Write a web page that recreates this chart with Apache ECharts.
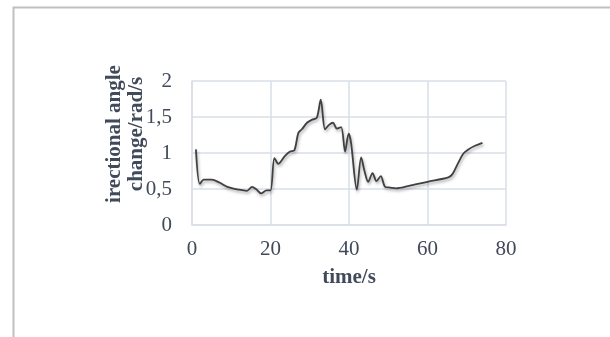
<!DOCTYPE html>
<html>
<head>
<meta charset="utf-8">
<script src="https://cdn.jsdelivr.net/npm/echarts@6/dist/echarts.min.js"></script>
<style>
html,body{margin:0;padding:0;background:#fff;}
#chart{width:610px;height:337px;}
</style>
</head>
<body>
<div id="chart"></div>
<script>
// time in seconds
var timeS = [1, 2, 3, 5, 7, 9, 12, 14, 15.3, 16.3, 17.6, 19, 20, 21, 22, 23.7, 25, 26.1, 27.1, 28, 29.3, 30.5, 31.8, 32.8, 33.9, 34.9, 35.9, 36.9, 38, 39, 39.9, 40.5, 42, 43.1, 43.9, 44.9, 46, 47, 48.1, 49.2, 50.5, 52, 55, 60, 65.3, 66.4, 67.8, 69.1, 70.4, 72.1, 74];
// directional angle change, rad/s
var angleChange = [1.05, 0.57, 0.63, 0.63, 0.59, 0.53, 0.49, 0.475, 0.53, 0.50, 0.44, 0.48, 0.48, 0.93, 0.85, 0.96, 1.02, 1.04, 1.28, 1.33, 1.42, 1.46, 1.49, 1.74, 1.33, 1.39, 1.42, 1.34, 1.36, 1.02, 1.27, 1.15, 0.49, 0.94, 0.76, 0.60, 0.72, 0.61, 0.68, 0.53, 0.52, 0.51, 0.54, 0.60, 0.66, 0.71, 0.86, 0.99, 1.05, 1.10, 1.14];
var xTicks = [0, 20, 40, 60, 80];
var yTicks = ['0', '0,5', '1', '1,5', '2'];
var xTitle = 'time/s';
var yTitle = 'irectional angle\nchange/rad/s';

var FONT = '"Liberation Serif", "Times New Roman", serif';
var TXT = '#404a5a';
var GRID = '#d9dee7';

var chart = echarts.init(document.getElementById('chart'));
var seriesData = timeS.map(function (t, i) { return [t, angleChange[i]]; });

chart.setOption({
  animation: false,
  backgroundColor: '#ffffff',
  grid: { left: 192, right: 104, top: 81, bottom: 112, containLabel: false },
  xAxis: {
    type: 'value', min: xTicks[0], max: xTicks[xTicks.length - 1], interval: 20,
    name: xTitle, nameLocation: 'middle', nameGap: 42,
    nameTextStyle: { fontFamily: FONT, fontSize: 21, fontWeight: 'bold', color: TXT },
    axisLine: { show: true, lineStyle: { color: GRID, width: 1.5 } },
    axisTick: { show: false },
    axisLabel: { margin: 14, fontFamily: FONT, fontSize: 21, color: TXT },
    splitLine: { show: true, lineStyle: { color: GRID, width: 1.5 } }
  },
  yAxis: {
    type: 'value', min: 0, max: 2, interval: 0.5,
    axisLine: { show: true, lineStyle: { color: GRID, width: 1.5 } },
    axisTick: { show: false },
    axisLabel: {
      margin: 20, fontFamily: FONT, fontSize: 21, color: TXT,
      formatter: function (v) { return yTicks[Math.round(v / 0.5)]; }
    },
    splitLine: { show: true, lineStyle: { color: GRID, width: 1.5 } }
  },
  graphic: [
    {
      type: 'rect', silent: true, z: 0,
      shape: { x: 13.5, y: 7.5, width: 800, height: 600 },
      style: { fill: 'none', stroke: '#c0c0c0', lineWidth: 2 }
    },
    {
      type: 'text', silent: true,
      x: 126, y: 134, rotation: Math.PI / 2,
      style: {
        text: yTitle, fontFamily: FONT, fontSize: 21, fontWeight: 'bold',
        fill: TXT, align: 'center', verticalAlign: 'middle', lineHeight: 22
      }
    }
  ],
  series: [{
    type: 'line', data: seriesData, smooth: 0.3, symbol: 'none',
    lineStyle: {
      color: '#404040', width: 1.8,
      shadowColor: 'rgba(0,0,0,0.35)', shadowBlur: 3, shadowOffsetX: 1, shadowOffsetY: 2
    }
  }]
});
</script>
</body>
</html>
